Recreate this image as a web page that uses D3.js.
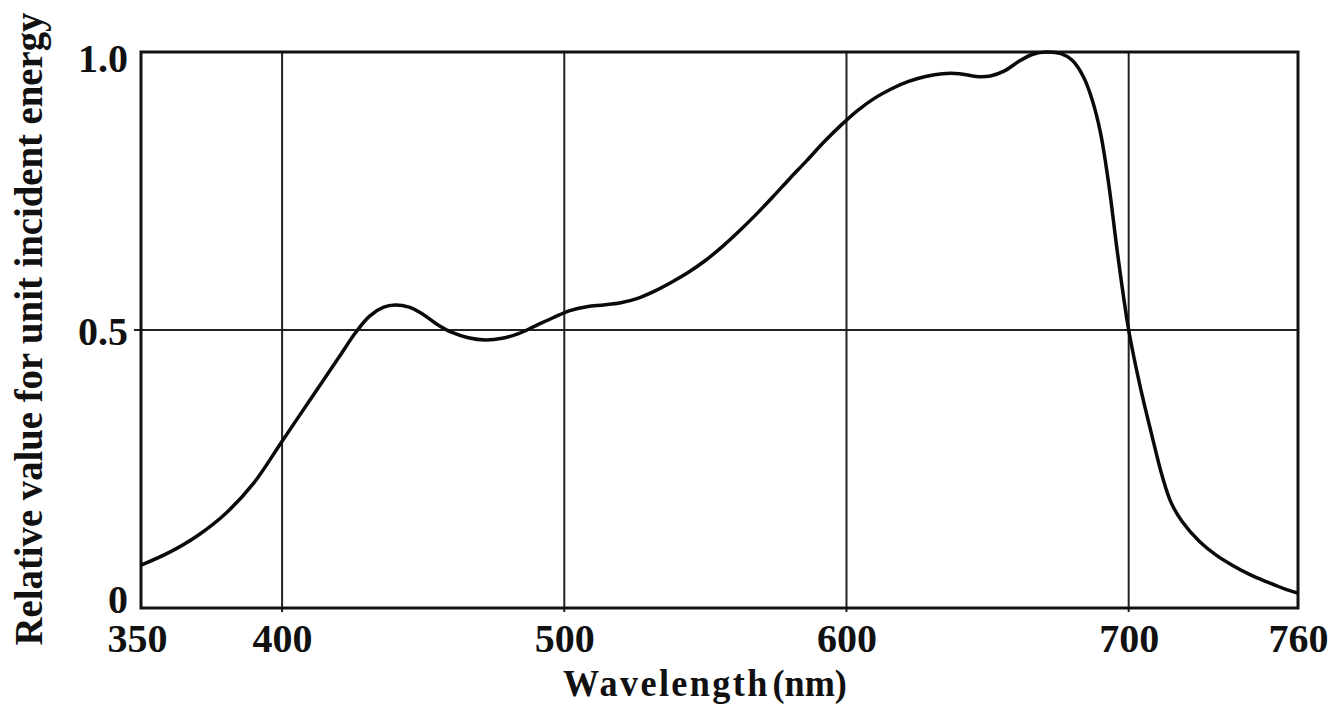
<!DOCTYPE html>
<html>
<head>
<meta charset="utf-8">
<script src="https://cdn.jsdelivr.net/npm/d3@7"></script>
<style>
  html, body { margin: 0; padding: 0; background: #ffffff; }
  svg { display: block; }
  text { font-family: "Liberation Serif", "Times New Roman", serif; font-weight: bold; fill: #111; }
</style>
</head>
<body>
<svg id="chart" width="1332" height="713"></svg>
<script>
// ---- data ----
const wavelengths = [350,360,370,380,390,400,410,420,426,431,436,440,445,450,455,460,466,472,478,484,490,496,502,508,514,520,526,532,538,544,550,556,562,568,574,580,586,592,598,604,610,616,622,628,634,640,646,651,656,661,666,671,676,680,684,687,690,693,696,700,704,708,712,715,719,725,731,737,743,749,755,760];
const relativeValue = [0.077,0.100,0.130,0.170,0.225,0.300,0.375,0.450,0.495,0.525,0.541,0.545,0.541,0.528,0.510,0.496,0.486,0.482,0.485,0.494,0.508,0.522,0.535,0.542,0.545,0.549,0.557,0.570,0.586,0.604,0.625,0.650,0.678,0.708,0.740,0.773,0.805,0.838,0.868,0.895,0.917,0.934,0.947,0.956,0.961,0.961,0.956,0.957,0.966,0.983,0.996,1.0,0.997,0.985,0.955,0.915,0.855,0.76,0.64,0.5,0.40,0.315,0.235,0.19,0.155,0.12,0.095,0.076,0.06,0.047,0.035,0.027];
const xTicks = [350,400,500,600,700,760];
const xGrid = [400,500,600,700];
const yTicks = [0,0.5,1.0];
const yTickLabels = ["0","0.5","1.0"];
const xTitleMain = "Wavelength";
const xTitleUnit = "(nm)";
const yTitle = "Relative value for unit incident energy";

// ---- layout ----
const svg = d3.select("#chart");
const pLeft = 141, pRight = 1298, pTop = 52, pBottom = 608;
const x = d3.scaleLinear().domain([350,760]).range([pLeft,pRight]);
const y = d3.scaleLinear().domain([0,1]).range([pBottom,pTop]);

// gridlines
const grid = svg.append("g");
grid.selectAll("line.vg").data(xGrid).join("line")
  .attr("x1", d => x(d)).attr("x2", d => x(d))
  .attr("y1", pTop).attr("y2", pBottom + 4)
  .attr("stroke", "#222").attr("stroke-width", 2);
grid.append("line")
  .attr("x1", pLeft - 7).attr("x2", pRight)
  .attr("y1", y(0.5)).attr("y2", y(0.5))
  .attr("stroke", "#222").attr("stroke-width", 2);

// frame
svg.append("rect")
  .attr("x", pLeft).attr("y", pTop)
  .attr("width", pRight - pLeft).attr("height", pBottom - pTop)
  .attr("fill", "none").attr("stroke", "#111").attr("stroke-width", 3);

// axes (labels only; lines drawn by frame)
const xAxis = d3.axisBottom(x).tickValues(xTicks).tickSize(0).tickPadding(0).tickFormat(d3.format("d"));
const gx = svg.append("g").attr("transform", `translate(0,${pBottom})`).call(xAxis);
gx.select(".domain").remove();
gx.selectAll("text")
  .attr("y", 44).attr("dy", 0)
  .style("font-family", "'Liberation Serif', serif")
  .style("font-weight", "bold")
  .style("font-size", "40px")
  .attr("fill", "#111");
gx.selectAll(".tick").filter(d => d === 350).select("text").attr("x", -4);

const yAxis = d3.axisLeft(y).tickValues(yTicks).tickSize(0).tickPadding(13)
  .tickFormat((d, i) => yTickLabels[i]);
const gy = svg.append("g").attr("transform", `translate(${pLeft},0)`).call(yAxis);
gy.select(".domain").remove();
gy.selectAll("text")
  .style("font-family", "'Liberation Serif', serif")
  .style("font-weight", "bold")
  .style("font-size", "40px")
  .attr("fill", "#111")
  .attr("dy", d => d === 0 ? "0.1em" : (d === 1 ? "0.48em" : "0.36em"));

// curve
const line = d3.line()
  .x((d, i) => x(wavelengths[i]))
  .y(d => y(d))
  .curve(d3.curveCatmullRom.alpha(0.5));
svg.append("path")
  .datum(relativeValue)
  .attr("d", line)
  .attr("fill", "none")
  .attr("stroke", "#0a0a0a")
  .attr("stroke-width", 3.5)
  .attr("stroke-linejoin", "round");

// x title
const xt = svg.append("text")
  .attr("x", 0).attr("y", 0)
  .style("font-size", "38px");
xt.append("tspan").style("letter-spacing", "2.5px").text(xTitleMain);
xt.append("tspan").attr("dx", 3).style("letter-spacing", "0px").text(xTitleUnit);
{
  const bb = xt.node().getBBox();
  const target = 284;
  const s = target / bb.width;
  xt.attr("transform", `translate(${705 - target / 2},696) scale(${s},1)`);
}

// y title: measure and fit the reference length
const yt = svg.append("text")
  .attr("text-anchor", "middle")
  .style("font-size", "40px")
  .text(yTitle);
{
  const len = yt.node().getComputedTextLength();
  const s = 633 / len;
  yt.attr("transform", `translate(42,329) rotate(-90) scale(${s},1)`);
}
</script>
</body>
</html>
